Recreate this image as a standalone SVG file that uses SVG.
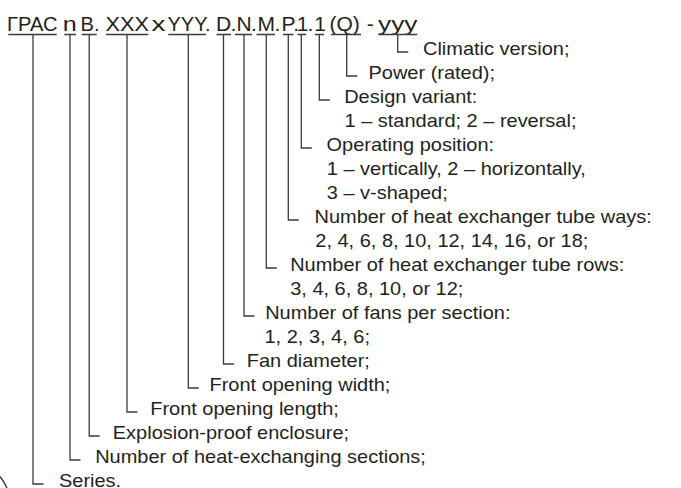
<svg xmlns="http://www.w3.org/2000/svg" width="681" height="488" viewBox="0 0 681 488">
<style>
.h{font-family:"Liberation Sans",Arial,sans-serif;font-size:21px;fill:#231f20}
.t{font-family:"Liberation Sans",Arial,sans-serif;font-size:18px;fill:#231f20}
.ln{fill:none;stroke:#3a3a3a;stroke-width:1.3}
</style>
<rect width="681" height="488" fill="#ffffff"/>
<g id="code">
<text class="h" x="7" y="30.5" textLength="50.5" lengthAdjust="spacingAndGlyphs">ГРАС</text>
<text class="h" x="62.8" y="30.5" textLength="14" lengthAdjust="spacingAndGlyphs">n</text>
<text class="h" x="80.5" y="30.5" textLength="19" lengthAdjust="spacingAndGlyphs">B.</text>
<text class="h" x="105.5" y="30.5" textLength="43.5" lengthAdjust="spacingAndGlyphs">XXX</text>
<text class="h" x="151.5" y="30.5" textLength="14" lengthAdjust="spacingAndGlyphs">x</text>
<text class="h" x="167.5" y="30.5" textLength="43" lengthAdjust="spacingAndGlyphs">YYY.</text>
<text class="h" x="216 230.5 236.5 251 257.5 274.5 281.5 293.2 296.8 307.6 314.3" y="30.5">D.N.M.P.1.1</text>
<text class="h" x="329.5" y="30.5">(Q)</text>
<text class="h" x="366.8" y="30.5">-</text>
<text class="h" x="378" y="30.5" textLength="39.5" lengthAdjust="spacingAndGlyphs">yyy</text>
</g>
<g id="underlines" class="ln">
<path d="M8.3,34.5H56.7M64.3,34.5H76M81.7,34.5H96.7M106,34.5H148.3M168.3,34.5H206M216.5,34.5H231M235,34.5H252M256.5,34.5H275M283,34.5H293.5M297.5,34.5H306M315,34.5H324M331,34.5H361M378.3,34.5H417.3"/>
</g>
<g id="connectors" class="ln">
<path d="M397.7,34.5V52H408.2"/>
<path d="M346.7,34.5V76H357.2"/>
<path d="M319.3,34.5V100H329.8"/>
<path d="M301.3,34.5V148H311.8"/>
<path d="M288.3,34.5V220H298.8"/>
<path d="M266.3,34.5V268H276.8"/>
<path d="M244,34.5V316H254.5"/>
<path d="M223.5,34.5V364H234"/>
<path d="M188.3,34.5V388H198.8"/>
<path d="M127,34.5V412H137.5"/>
<path d="M89.2,34.5V436H99.7"/>
<path d="M70,34.5V460H80.5"/>
<path d="M33,34.5V484H43.5"/>
</g>
<g id="labels">
<text class="t" transform="translate(423,55) scale(1.11,1)">Climatic version;</text>
<text class="t" transform="translate(368.5,79) scale(1.11,1)">Power (rated);</text>
<text class="t" transform="translate(344.2,103) scale(1.11,1)">Design variant:</text>
<text class="t" transform="translate(344.5,127) scale(1.11,1)">1 – standard; 2 – reversal;</text>
<text class="t" transform="translate(326.5,151) scale(1.11,1)">Operating position:</text>
<text class="t" transform="translate(326.8,175) scale(1.11,1)">1 – vertically, 2 – horizontally,</text>
<text class="t" transform="translate(326.8,199) scale(1.11,1)">3 – v-shaped;</text>
<text class="t" transform="translate(314.5,223) scale(1.11,1)">Number of heat exchanger tube ways:</text>
<text class="t" transform="translate(315.3,247) scale(1.11,1)">2, 4, 6, 8, 10, 12, 14, 16, or 18;</text>
<text class="t" transform="translate(290.2,271) scale(1.11,1)">Number of heat exchanger tube rows:</text>
<text class="t" transform="translate(290.2,295) scale(1.11,1)">3, 4, 6, 8, 10, or 12;</text>
<text class="t" transform="translate(265.2,319) scale(1.11,1)">Number of fans per section:</text>
<text class="t" transform="translate(264.5,343) scale(1.11,1)">1, 2, 3, 4, 6;</text>
<text class="t" transform="translate(246.7,367) scale(1.11,1)">Fan diameter;</text>
<text class="t" transform="translate(209.5,391) scale(1.11,1)">Front opening width;</text>
<text class="t" transform="translate(150.2,415) scale(1.11,1)">Front opening length;</text>
<text class="t" transform="translate(112.8,439) scale(1.11,1)">Explosion-proof enclosure;</text>
<text class="t" transform="translate(95.2,463) scale(1.11,1)">Number of heat-exchanging sections;</text>
<text class="t" transform="translate(59,487) scale(1.11,1)">Series.</text>
</g>
<path d="M0,476.5Q4,481.5 7,488" fill="none" stroke="#3a3a3a" stroke-width="1.5"/>
</svg>
